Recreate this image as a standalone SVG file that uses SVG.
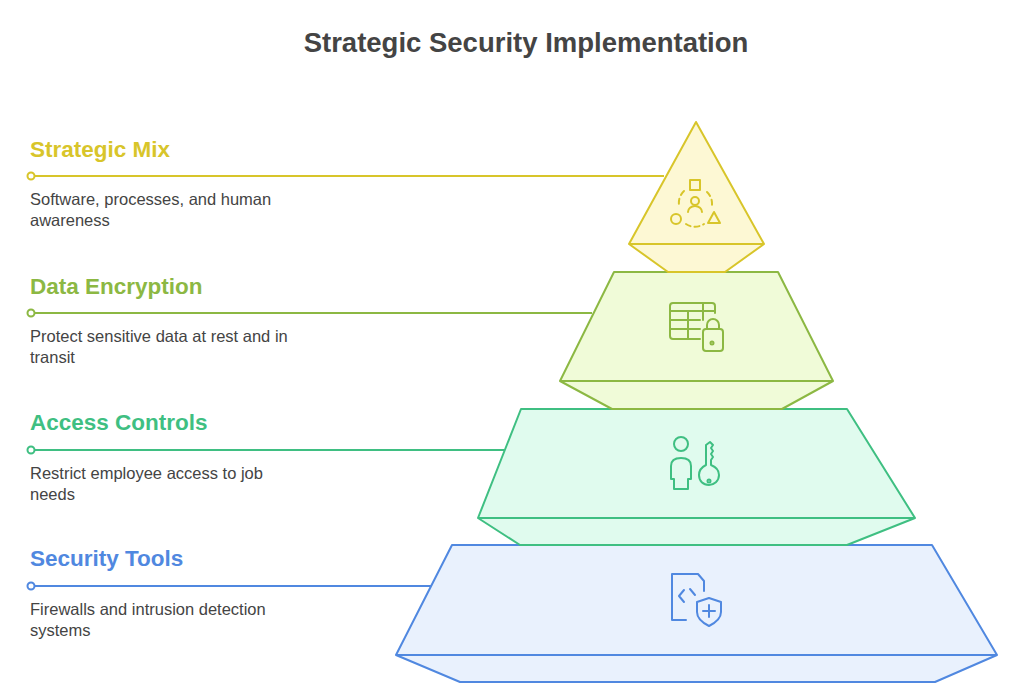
<svg xmlns="http://www.w3.org/2000/svg" width="1024" height="697" viewBox="0 0 1024 697">
<style>
.t{font-family:"Liberation Sans",Arial,sans-serif;font-weight:bold;font-size:22.5px}
.d{font-family:"Liberation Sans",Arial,sans-serif;font-size:16.5px;fill:#444}
.s{stroke-width:2;stroke-linejoin:round}
.i{fill:none;stroke-width:2;stroke-linecap:round;stroke-linejoin:round}
</style>
<rect width="1024" height="697" fill="#fff"/>
<text x="526" y="52" text-anchor="middle" font-family="Liberation Sans,Arial,sans-serif" font-weight="bold" font-size="27.5" fill="#444">Strategic Security Implementation</text>
<g id="connectors" fill="none" stroke-width="2">
<line x1="31" y1="176" x2="664" y2="176" stroke="#d8c52a"/><circle cx="31" cy="176" r="3.5" fill="#fff" stroke="#d8c52a"/>
<line x1="31" y1="313" x2="592" y2="313" stroke="#8cb843"/><circle cx="31" cy="313" r="3.5" fill="#fff" stroke="#8cb843"/>
<line x1="31" y1="450" x2="519" y2="450" stroke="#3fbf82"/><circle cx="31" cy="450" r="3.5" fill="#fff" stroke="#3fbf82"/>
<line x1="31" y1="586" x2="435" y2="586" stroke="#5088e0"/><circle cx="31" cy="586" r="3.5" fill="#fff" stroke="#5088e0"/>
</g>
<g id="security-tools">
<polygon class="s" points="452,545 932,545 997,655 935,682 460,682 396,655" fill="#e9f1fd" stroke="#5088e0"/>
<line x1="396" y1="655" x2="997" y2="655" stroke="#5088e0" stroke-width="2"/>
<g class="i" stroke="#5088e0"><path d="M686,620 h-14 v-46 h26 l6,7 v10"/><path d="M684,590 l-5,6 5,6 M690,589 l5,6"/><path d="M709,598 l12,4 v10 c0,7 -6,11 -12,14 c-6,-3 -12,-7 -12,-14 v-10 z M709,605 v12 M703,611 h12"/></g>
<text class="t" x="30" y="566" fill="#5088e0">Security Tools</text>
<text class="d" x="30" y="615">Firewalls and intrusion detection</text><text class="d" x="30" y="636">systems</text>
</g>
<g id="access-controls">
<polygon class="s" points="521,409 847,409 915,518 847,545 520,545 478,518" fill="#e0fbee" stroke="#3fbf82"/>
<line x1="478" y1="518" x2="915" y2="518" stroke="#3fbf82" stroke-width="2"/>
<g class="i" stroke="#3fbf82"><circle cx="681" cy="444" r="7"/><path d="M674,489 v-10 h-3 v-13 c0,-6 5,-8 10,-8 c5,0 10,2 10,8 v13 h-3 v10 z"/><path d="M706,465 v-20 l4,-3 3,3 -2,3 2,3 -2,3 2,3 -2,3 v5 c5,2 8,5 8,10 c0,6 -5,10 -10,10 c-6,0 -10,-4 -10,-10 c0,-5 3,-8 7,-10 z"/><circle cx="709" cy="481" r="1.5"/></g>
<text class="t" x="30" y="430" fill="#3fbf82">Access Controls</text>
<text class="d" x="30" y="479">Restrict employee access to job</text><text class="d" x="30" y="500">needs</text>
</g>
<g id="data-encryption">
<polygon class="s" points="614,272 778,272 833,381 782,409 612,409 560,381" fill="#f0fbd8" stroke="#8cb843"/>
<line x1="560" y1="381" x2="833" y2="381" stroke="#8cb843" stroke-width="2"/>
<g class="i" stroke="#8cb843"><path d="M700,339 h-27 a3,3 0 0 1 -3,-3 v-30 a3,3 0 0 1 3,-3 h39 a3,3 0 0 1 3,3 v7"/><path d="M670,311 h45 M670,320 h30 M670,329 h30 M688,311 v28 M703,303 v17"/><rect x="703" y="329" width="20" height="22" rx="3"/><path d="M707,329 v-4 a6,6 0 0 1 12,0 v4"/><circle cx="712" cy="343" r="1.5"/></g>
<text class="t" x="30" y="294" fill="#8cb843">Data Encryption</text>
<text class="d" x="30" y="342">Protect sensitive data at rest and in</text><text class="d" x="30" y="363">transit</text>
</g>
<g id="strategic-mix">
<polygon class="s" points="696,122 764,244 725,272 668,272 629,244" fill="#fdf8d4" stroke="#d8c52a"/>
<line x1="629" y1="244" x2="764" y2="244" stroke="#d8c52a" stroke-width="2"/>
<g class="i" stroke="#d8c52a"><rect x="690" y="180" width="10" height="10"/><circle cx="695" cy="201" r="4"/><path d="M688,212 a7,6 0 0 1 14,0"/><circle cx="676" cy="219" r="5"/><path d="M714,212 l6,11 h-12 z"/><path d="M684,191 a16,16 0 0 0 -5,14 M707,192 a16,16 0 0 1 5,13 M686,224 a16,16 0 0 0 18,0" stroke-dasharray="5 4"/></g>
<text class="t" x="30" y="157" fill="#d8c52a">Strategic Mix</text>
<text class="d" x="30" y="205">Software, processes, and human</text><text class="d" x="30" y="226">awareness</text>
</g>
</svg>
